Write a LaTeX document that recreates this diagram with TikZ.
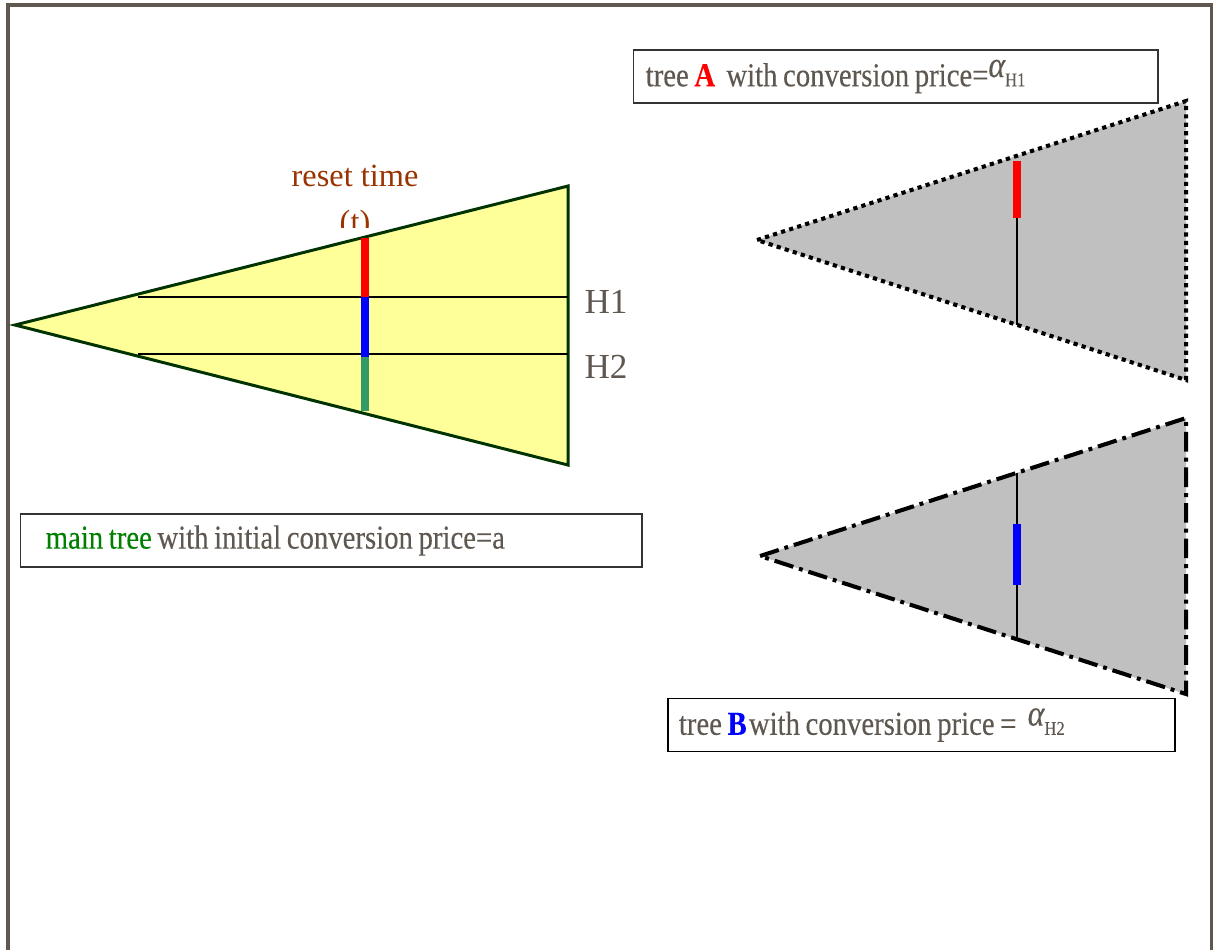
\documentclass[tikz,border=0pt]{standalone}
\usepackage{fontspec}
\setmainfont{Liberation Serif}
\newfontfamily\narrowserif[FakeStretch=0.86, FakeBold=0.25]{Liberation Serif}
\newcommand{\tightspace}{\spaceskip=1.6pt plus 0.5pt\relax}
\definecolor{txtgray}{RGB}{95,88,80}
\definecolor{treeyellow}{RGB}{255,255,153}
\definecolor{treeedge}{RGB}{0,51,0}
\definecolor{resetbrown}{RGB}{153,51,0}
\definecolor{maingreen}{RGB}{0,128,0}
\definecolor{bargreen}{RGB}{51,153,102}
\definecolor{subgray}{RGB}{192,192,192}
\tikzset{
  labelbox/.style={draw=black!80, line width=0.4pt, minimum height=0.53cm, inner ysep=0pt, align=left,
    text=txtgray, font=\narrowserif\fontsize{9.5}{10}\selectfont},
  subtree/.style={fill=subgray, line width=1.15pt},
  hline/.style={line width=0.45pt, black}
}
\newcommand{\alphasub}[1]{{\fontsize{10.5}{12}\selectfont\raisebox{2.6pt}{\itshape α}}{\fontsize{5.5}{6}\selectfont #1}}
\begin{document}
\begin{tikzpicture}[x=0.01cm, y=-0.01cm]
  \useasboundingbox (0,0) rectangle (1213,950);
  \draw[txtgray, line width=0.9pt] (8,950) -- (8,5) -- (1212,5) -- (1212,950); % page frame
  % main tree
  \begin{scope}
    \clip (250,150) rectangle (460,227);
    \node[anchor=north, inner sep=0pt, align=center, text=resetbrown,
          font=\fontsize{9.2}{13.2}\selectfont] (reset) at (355,164) {reset time\\(t)};
  \end{scope}
  \draw[fill=treeyellow, draw=treeedge, line width=0.85pt] (15,325) -- (568,186) -- (568,465) -- cycle;
  \draw[hline] (138,297) -- (568,297);
  \draw[hline] (138,354) -- (568,354);
  \draw[red, line width=2pt] (365,238) -- (365,297);
  \draw[blue, line width=2pt] (365,297) -- (365,357);
  \draw[bargreen, line width=2pt] (365,357) -- (365,411);
  \node[text=txtgray, font=\fontsize{10}{12}\selectfont] (hone) at (606,302) {H1};
  \node[text=txtgray, font=\fontsize{10}{12}\selectfont] (htwo) at (606,367) {H2};
  \node[labelbox, anchor=west, minimum width=6.21cm, inner xsep=0.25cm, text width=5.71cm] (mainbox) at (20,540.5)
    {\tightspace\textcolor{maingreen}{main tree} with initial conversion price=a};
  % tree A
  \node[labelbox, anchor=west, minimum width=5.24cm, inner xsep=0.12cm, text width=5cm] (boxa) at (633,76.5)
    {\tightspace tree \textcolor{red}{\textbf{A}} \ with conversion price=\alphasub{H1}};
  \draw[subtree, dash pattern=on 1.2pt off 1.2pt] (757,240) -- (1186,101) -- (1186,380) -- cycle;
  \draw[hline] (1017,218) -- (1017,325);
  \draw[red, line width=2.2pt] (1017,161) -- (1017,218);
  % tree B
  \draw[subtree, dash pattern=on 5.6pt off 1.7pt on 1.1pt off 1.7pt] (760,556) -- (1186,418) -- (1186,694) -- cycle;
  \draw[hline] (1017,473) -- (1017,637);
  \draw[blue, line width=2.2pt] (1017,524) -- (1017,585);
  \node[labelbox, draw=black, line width=0.5pt, anchor=west, minimum width=5.07cm, inner xsep=0.11cm, text width=4.85cm] (boxb) at (667,725)
    {\tightspace tree \textcolor{blue}{\textbf{B}}\kern0.6pt with conversion price = \ \alphasub{H2}};
\end{tikzpicture}
\end{document}
